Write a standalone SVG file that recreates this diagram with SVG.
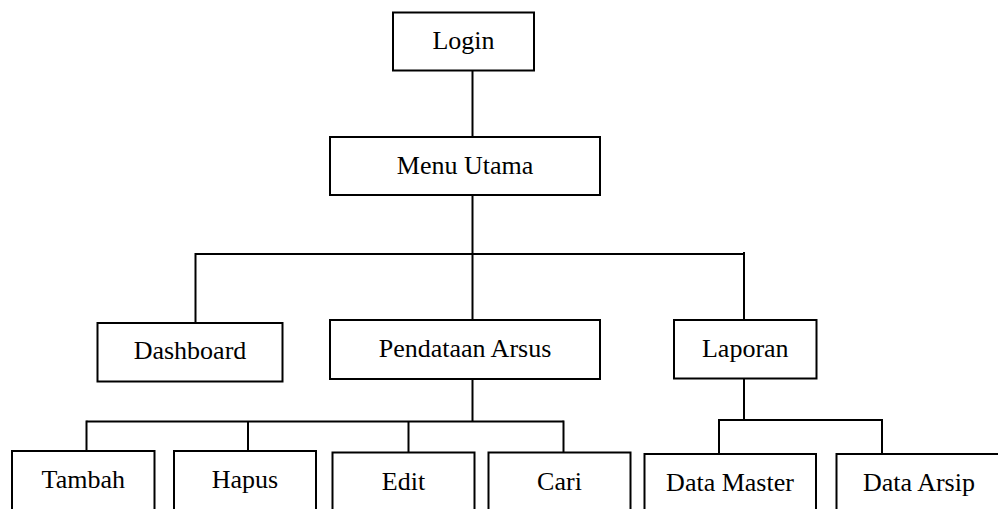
<svg xmlns="http://www.w3.org/2000/svg" width="998" height="509" viewBox="0 0 998 509">
  <style>
    .box { fill: #ffffff; stroke: #000000; stroke-width: 2; }
    .lbl { font-family: "Liberation Serif", "Times New Roman", serif; font-size: 26px; fill: #000000; text-anchor: middle; }
    .wire { fill: none; stroke: #000000; stroke-width: 2; }
  </style>
  <rect width="998" height="509" fill="#ffffff"/>

  <!-- connectors -->
  <g id="connectors">
    <path class="wire" d="M472.5 71 V137"/>
    <path class="wire" d="M472.5 195 V254"/>
    <path class="wire" d="M195.5 254 H744"/>
    <path class="wire" d="M195.5 253 V323"/>
    <path class="wire" d="M472.5 254 V320"/>
    <path class="wire" d="M744 252 V320"/>
    <path class="wire" d="M472.5 379 V421.5"/>
    <path class="wire" d="M86.5 421.5 H563.5"/>
    <path class="wire" d="M86.5 420.5 V451"/>
    <path class="wire" d="M248 421.5 V451"/>
    <path class="wire" d="M408.5 421.5 V452.5"/>
    <path class="wire" d="M563.5 420.5 V452.5"/>
    <path class="wire" d="M744 379 V420"/>
    <path class="wire" d="M719 420 H882"/>
    <path class="wire" d="M719 419 V454"/>
    <path class="wire" d="M882 419 V454"/>
  </g>

  <g id="login">
    <rect class="box" x="393" y="12.5" width="141" height="58"/>
    <text class="lbl" x="463.5" y="49">Login</text>
  </g>
  <g id="menu-utama">
    <rect class="box" x="330" y="137" width="270" height="58"/>
    <text class="lbl" x="465" y="173.5">Menu Utama</text>
  </g>
  <g id="dashboard">
    <rect class="box" x="97.5" y="323" width="185" height="58.5"/>
    <text class="lbl" x="190" y="358.5">Dashboard</text>
  </g>
  <g id="pendataan-arsus">
    <rect class="box" x="330" y="320" width="270" height="59"/>
    <text class="lbl" x="465" y="356.5">Pendataan Arsus</text>
  </g>
  <g id="laporan">
    <rect class="box" x="674" y="320" width="142.5" height="58.5"/>
    <text class="lbl" x="745.3" y="356.5">Laporan</text>
  </g>
  <g id="tambah">
    <rect class="box" x="12" y="451" width="142.5" height="70"/>
    <text class="lbl" x="83.3" y="488">Tambah</text>
  </g>
  <g id="hapus">
    <rect class="box" x="174" y="451" width="142" height="70"/>
    <text class="lbl" x="245" y="488">Hapus</text>
  </g>
  <g id="edit">
    <rect class="box" x="332.5" y="452.5" width="142" height="70"/>
    <text class="lbl" x="403.5" y="489.5">Edit</text>
  </g>
  <g id="cari">
    <rect class="box" x="488.5" y="452.5" width="142" height="70"/>
    <text class="lbl" x="559.5" y="489.5">Cari</text>
  </g>
  <g id="data-master">
    <rect class="box" x="644.5" y="454" width="171.5" height="70"/>
    <text class="lbl" x="730" y="490.5">Data Master</text>
  </g>
  <g id="data-arsip">
    <rect class="box" x="836.5" y="454" width="166" height="70"/>
    <text class="lbl" x="919" y="490.5">Data Arsip</text>
  </g>
</svg>
